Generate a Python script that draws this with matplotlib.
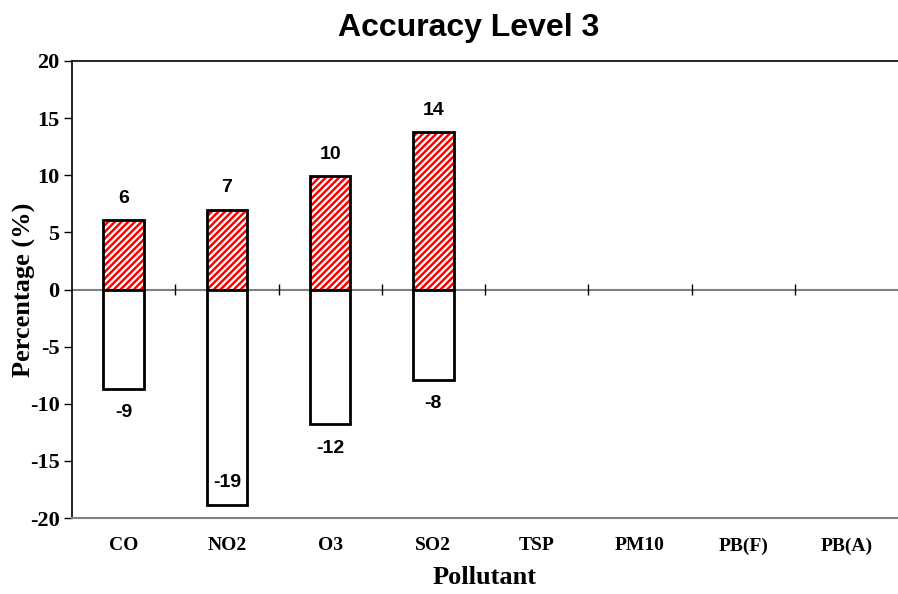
import numpy as np
import matplotlib
matplotlib.use('Agg')
import matplotlib.pyplot as plt

# data
pollutants = ['CO', 'NO2', 'O3', 'SO2', 'TSP', 'PM10', 'PB(F)', 'PB(A)']
over = [6.1, 7.0, 9.9, 13.8]     # positive bias (%)
under = [-8.7, -18.9, -11.8, -7.9]  # negative bias (%)
yticks = [-20, -15, -10, -5, 0, 5, 10, 15, 20]

plt.rcParams['hatch.linewidth'] = 1.6

fig = plt.figure(figsize=(8.98, 5.94), dpi=100)
ax = fig.add_axes([72/898, 1-518/594, 1-72/898, (518-61)/594])

x = np.arange(len(over)) + 0.5
w = 0.39

# positive bars: red with white diagonal stripes
ax.bar(x, over, w, color='#ff0000', edgecolor='white', hatch='/////', linewidth=0, zorder=2)
ax.bar(x, over, w, fill=False, edgecolor='black', linewidth=2, zorder=3)
# negative bars: white boxes
ax.bar(x, under, w, color='white', edgecolor='black', linewidth=2, zorder=3)

lab_font = dict(family='Liberation Sans', fontweight='bold', fontsize=14)
for xi, v in zip(x, over):
    ax.text(xi, v + 1.9, '%d' % round(v), ha='center', va='center', **lab_font)
for xi, v in zip(x, under):
    ypos = max(v - 2.1, -16.9)
    ax.text(xi, ypos, '%d' % round(v), ha='center', va='center', **lab_font)

ax.set_xlim(0, len(pollutants))
ax.set_ylim(-20, 20)

# zero line with category separators
ax.axhline(0, color='#808080', linewidth=1.5, zorder=1)
ax.vlines(np.arange(1, len(pollutants)), -0.5, 0.5, color='black', linewidth=1, zorder=1)

ax.set_xticks(np.arange(len(pollutants)) + 0.5)
ax.set_xticklabels(pollutants, family='Liberation Serif', fontweight='bold', fontsize=14)
ax.tick_params(axis='x', length=0, pad=14)
ax.set_yticks(yticks)
ax.set_yticklabels([str(t) for t in yticks], family='Liberation Serif', fontweight='bold', fontsize=16)
ax.tick_params(axis='y', direction='out', length=6, width=1, pad=3)

ax.spines['right'].set_visible(False)
ax.spines['top'].set_linewidth(1.2)
ax.spines['left'].set_linewidth(1.2)
ax.spines['bottom'].set_color('#808080')
ax.spines['bottom'].set_linewidth(1.5)

ax.set_xlabel('Pollutant', family='Liberation Serif', fontweight='bold', fontsize=19, labelpad=8)
fig.text(24/898, 1-290/594, 'Percentage (%)', family='Liberation Serif', fontweight='bold',
         fontsize=19, rotation=90, ha='center', va='center')
fig.text(469/898, 1-28/594, 'Accuracy Level 3', family='Liberation Sans', fontweight='bold',
         fontsize=23, ha='center', va='center')

fig.savefig('out.png', dpi=100)
